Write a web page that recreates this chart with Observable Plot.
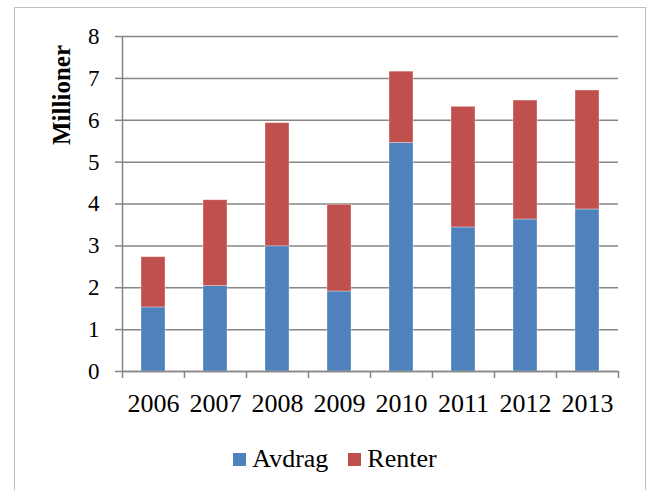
<!DOCTYPE html>
<html>
<head>
<meta charset="utf-8">
<script src="https://cdn.jsdelivr.net/npm/d3@7"></script>
<script src="https://cdn.jsdelivr.net/npm/@observablehq/plot@0.6"></script>
<style>
  html, body { margin: 0; padding: 0; background: #fff; }
  body { width: 650px; height: 490px; position: relative; overflow: hidden; font-family: "Liberation Serif", "Times New Roman", serif; }
  #frame { position: absolute; left: 14px; top: 7px; width: 632px; height: 500px; border: 1.5px solid #bfbfbf; border-bottom: none; box-sizing: border-box; }
  #chart { position: absolute; left: 0; top: 0; }
  #ylabel { position: absolute; left: 62px; top: 95px; transform: translate(-50%, -50%) rotate(-90deg); font-weight: bold; font-size: 25px; white-space: nowrap; color: #000; }
  #legend { position: absolute; left: 10px; top: 444px; width: 650px; display: flex; justify-content: center; align-items: center; font-size: 26px; color: #000; }
  .item { display: flex; align-items: center; margin: 0 10px; }
  .sw { width: 13px; height: 13px; margin-right: 6px; }
</style>
</head>
<body>
<div id="frame"></div>
<div id="chart"></div>
<div id="ylabel">Millioner</div>
<div id="legend"></div>
<script>
const years = [2006, 2007, 2008, 2009, 2010, 2011, 2012, 2013];
const avdrag = [1.53, 2.04, 2.99, 1.91, 5.46, 3.44, 3.63, 3.87];
const renter = [1.20, 2.05, 2.94, 2.07, 1.70, 2.88, 2.84, 2.84];
const seriesNames = ["Avdrag", "Renter"];
const seriesColors = ["#4F81BD", "#C0504D"];
const yTicks = [0, 1, 2, 3, 4, 5, 6, 7, 8];

const rows = [];
years.forEach((yr, i) => {
  rows.push({year: yr, series: "Avdrag", y1: 0, y2: avdrag[i]});
  rows.push({year: yr, series: "Renter", y1: avdrag[i], y2: avdrag[i] + renter[i]});
});
const boundaries = d3.range(years[0] - 0.5, years[years.length - 1] + 1, 1);

const grid = "#868686";
const chart = Plot.plot({
  width: 650,
  height: 430,
  marginLeft: 122,
  marginRight: 32,
  marginTop: 36,
  marginBottom: 59,
  style: {fontFamily: "'Liberation Serif', 'Times New Roman', serif", background: "transparent", color: "#000"},
  x: {type: "linear", domain: [boundaries[0], boundaries[boundaries.length - 1]]},
  y: {domain: [0, 8]},
  color: {domain: seriesNames, range: seriesColors},
  marks: [
    Plot.gridY(yTicks, {stroke: grid, strokeOpacity: 1, strokeWidth: 1.5}),
    Plot.rectY(rows, {
      x1: d => d.year - 0.5, x2: d => d.year + 0.5,
      y1: "y1", y2: "y2", fill: "series",
      insetLeft: 19, insetRight: 19,
      stroke: "#ffffff", strokeOpacity: 0.4, strokeWidth: 0.8
    }),
    Plot.axisY(yTicks, {tickSize: 7, tickPadding: 16, fontSize: 23, stroke: grid, strokeWidth: 1.5, label: null, tickFormat: d => String(d)}),
    Plot.ruleX([boundaries[0]], {stroke: grid, strokeWidth: 1.5}),
    Plot.ruleY([0], {stroke: grid, strokeWidth: 1.5}),
    Plot.axisX(boundaries, {tickSize: 7, stroke: grid, strokeWidth: 1.5, tickFormat: () => "", label: null}),
    Plot.axisX(years, {tickSize: 0, tickPadding: 22, fontSize: 26, tickFormat: d => String(d), label: null})
  ]
});
document.getElementById("chart").appendChild(chart);

const legend = document.getElementById("legend");
seriesNames.forEach((name, i) => {
  const item = document.createElement("div");
  item.className = "item";
  const sw = document.createElement("div");
  sw.className = "sw";
  sw.style.background = seriesColors[i];
  const t = document.createElement("span");
  t.textContent = name;
  item.appendChild(sw);
  item.appendChild(t);
  legend.appendChild(item);
});
</script>
</body>
</html>
